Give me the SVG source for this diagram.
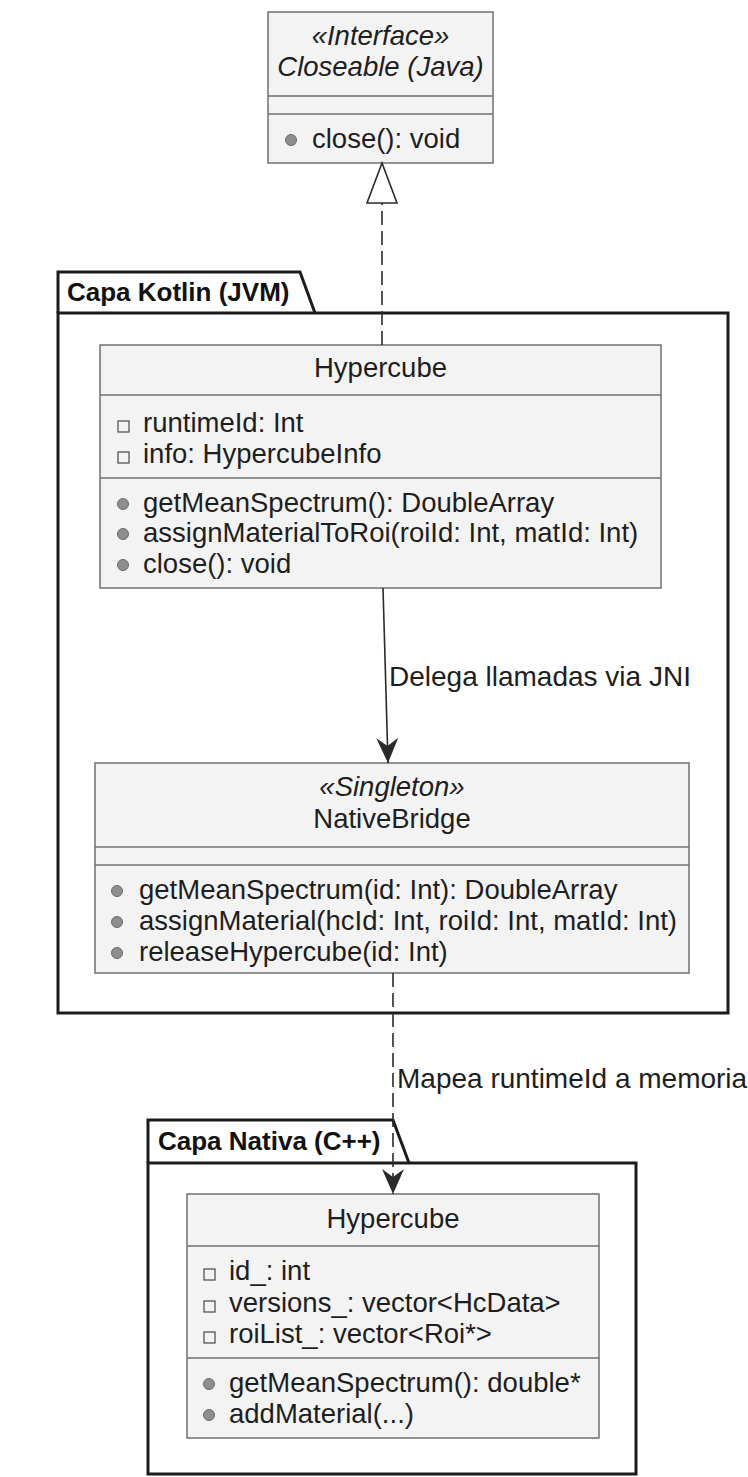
<svg xmlns="http://www.w3.org/2000/svg" width="748" height="1477" viewBox="0 0 748 1477">
  <style>
    .box { fill: #F3F3F3; stroke: #707070; stroke-width: 1.5; }
    .sep { stroke: #707070; stroke-width: 1.5; }
    .pkg { fill: none; stroke: #1C1C1C; stroke-width: 3; stroke-linejoin: miter; }
    .t { font-family: "Liberation Sans", Arial, sans-serif; font-size: 27.5px; fill: #1E1E1E; }
    .c { text-anchor: middle; }
    .i { font-style: italic; }
    .pk { font-family: "Liberation Sans", Arial, sans-serif; font-size: 26px; font-weight: bold; fill: #111; }
    .lbl { font-family: "Liberation Sans", Arial, sans-serif; font-size: 28px; fill: #1E1E1E; }
    .pub { fill: #8E8E8E; stroke: #6A6A6A; stroke-width: 1; }
    .priv { fill: none; stroke: #555; stroke-width: 1.3; }
    .edge { stroke: #2A2A2A; stroke-width: 1.6; fill: none; }
    .dash { stroke-dasharray: 14 6; }
  </style>
  <defs>
    <marker id="arrow" markerUnits="userSpaceOnUse" viewBox="0 0 25 22" refX="25" refY="11" markerWidth="25" markerHeight="22" orient="auto">
      <path d="M25,11 L0,0 L8,11 L0,22 Z" fill="#2A2A2A"/>
    </marker>
  </defs>

  <rect width="748" height="1477" fill="#FFFFFF"/>

  <!-- packages -->
  <g id="pkg-kotlin">
    <path class="pkg" d="M58,313 H728 V1013 H58 Z"/>
    <path class="pkg" d="M58,313 V272 H300 L315,313"/>
    <text class="pk" x="67" y="301">Capa Kotlin (JVM)</text>
  </g>
  <g id="pkg-native">
    <path class="pkg" d="M148,1163 H636 V1474 H148 Z"/>
    <path class="pkg" d="M148,1163 V1120 H393 L409,1163"/>
    <text class="pk" x="158" y="1150">Capa Nativa (C++)</text>
  </g>

  <!-- Closeable interface -->
  <g id="closeable">
    <rect class="box" x="268" y="12" width="225" height="151"/>
    <line class="sep" x1="268" y1="96" x2="493" y2="96"/>
    <line class="sep" x1="268" y1="114" x2="493" y2="114"/>
    <text class="t c i" x="380.5" y="45">«Interface»</text>
    <text class="t c i" x="380.5" y="76">Closeable (Java)</text>
    <circle class="pub" cx="291" cy="140" r="5.5"/>
    <text class="t" x="312" y="148">close(): void</text>
  </g>

  <!-- Kotlin Hypercube -->
  <g id="hypercube-kotlin">
    <rect class="box" x="100" y="345" width="561" height="243"/>
    <line class="sep" x1="100" y1="395" x2="661" y2="395"/>
    <line class="sep" x1="100" y1="478" x2="661" y2="478"/>
    <text class="t c" x="380.5" y="377">Hypercube</text>
    <rect class="priv" x="118" y="421" width="11" height="11"/>
    <text class="t" x="143" y="432">runtimeId: Int</text>
    <rect class="priv" x="118" y="452" width="11" height="11"/>
    <text class="t" x="143" y="463">info: HypercubeInfo</text>
    <circle class="pub" cx="123" cy="504" r="5.5"/>
    <text class="t" x="143" y="512">getMeanSpectrum(): DoubleArray</text>
    <circle class="pub" cx="123" cy="534" r="5.5"/>
    <text class="t" x="143" y="542">assignMaterialToRoi(roiId: Int, matId: Int)</text>
    <circle class="pub" cx="123" cy="565" r="5.5"/>
    <text class="t" x="143" y="573">close(): void</text>
  </g>

  <!-- NativeBridge singleton -->
  <g id="native-bridge">
    <rect class="box" x="95" y="763" width="594" height="210"/>
    <line class="sep" x1="95" y1="847" x2="689" y2="847"/>
    <line class="sep" x1="95" y1="865" x2="689" y2="865"/>
    <text class="t c i" x="392" y="796">«Singleton»</text>
    <text class="t c" x="392" y="828">NativeBridge</text>
    <circle class="pub" cx="117" cy="891" r="5.5"/>
    <text class="t" x="139" y="899">getMeanSpectrum(id: Int): DoubleArray</text>
    <circle class="pub" cx="117" cy="922" r="5.5"/>
    <text class="t" x="139" y="930">assignMaterial(hcId: Int, roiId: Int, matId: Int)</text>
    <circle class="pub" cx="117" cy="953" r="5.5"/>
    <text class="t" x="139" y="961">releaseHypercube(id: Int)</text>
  </g>

  <!-- Native Hypercube -->
  <g id="hypercube-native">
    <rect class="box" x="187" y="1194" width="412" height="244"/>
    <line class="sep" x1="187" y1="1246" x2="599" y2="1246"/>
    <line class="sep" x1="187" y1="1358" x2="599" y2="1358"/>
    <text class="t c" x="393" y="1228">Hypercube</text>
    <rect class="priv" x="204" y="1269" width="11" height="11"/>
    <text class="t" x="229" y="1280">id_: int</text>
    <rect class="priv" x="204" y="1301" width="11" height="11"/>
    <text class="t" x="229" y="1312">versions_: vector&lt;HcData&gt;</text>
    <rect class="priv" x="204" y="1332" width="11" height="11"/>
    <text class="t" x="229" y="1343">roiList_: vector&lt;Roi*&gt;</text>
    <circle class="pub" cx="209" cy="1384" r="5.5"/>
    <text class="t" x="229" y="1392">getMeanSpectrum(): double*</text>
    <circle class="pub" cx="209" cy="1415" r="5.5"/>
    <text class="t" x="229" y="1423">addMaterial(...)</text>
  </g>

  <!-- connectors -->
  <g id="connectors">
    <line class="edge dash" x1="382" y1="345" x2="382" y2="203"/>
    <polygon points="382,163 367,203 397,203" fill="#FFFFFF" stroke="#2A2A2A" stroke-width="1.6"/>

    <line class="edge" x1="383" y1="588" x2="388" y2="763" marker-end="url(#arrow)"/>
    <text class="lbl" x="389" y="686">Delega llamadas via JNI</text>

    <line class="edge dash" x1="393" y1="973" x2="393" y2="1194" marker-end="url(#arrow)"/>
    <text class="lbl" x="397" y="1088">Mapea runtimeId a memoria</text>
  </g>
</svg>
